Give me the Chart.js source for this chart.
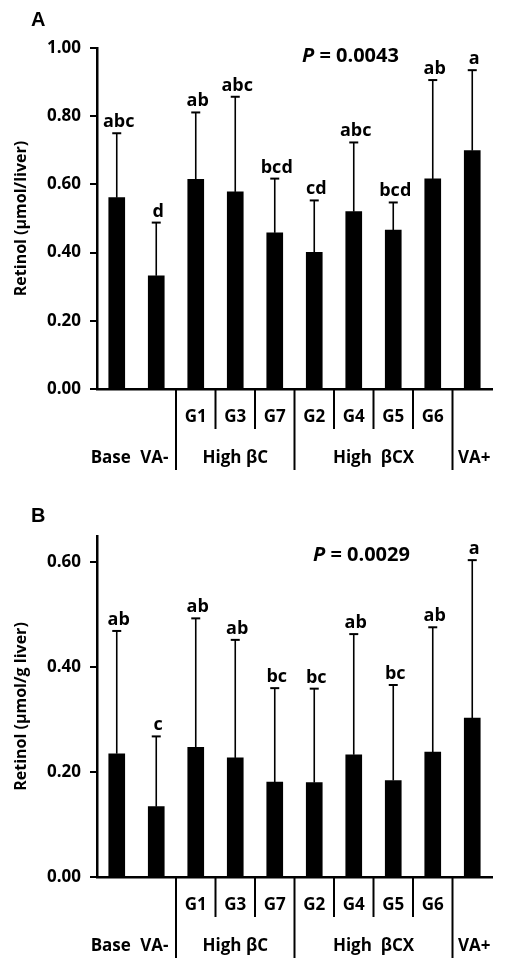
<!DOCTYPE html>
<html lang="en">
<head>
    <meta charset="UTF-8">
    <title>Retinol chart</title>
    <style>
        body { margin: 0; background: #fff; }
        canvas { display: block; }
    </style>
</head>
<body>

<!-- two panels, one above the other -->
<canvas id="chartA" width="505" height="484"></canvas>
<canvas id="chartB" width="505" height="484"></canvas>

<script src="https://cdn.jsdelivr.net/npm/chart.js"></script>

<script>
    // categories and labels under the axis
    const categories = ['Base', 'VA-', 'G1', 'G3', 'G7', 'G2', 'G4', 'G5', 'G6', 'VA+'];
    const subLabels = ['', '', 'G1', 'G3', 'G7', 'G2', 'G4', 'G5', 'G6', ''];
    const groupNames = ['Base', 'VA-', 'High βC', 'High  βCX', 'VA+'];
    const groupFrom = [0, 1, 2, 5, 9];
    const groupTo = [0, 1, 4, 8, 9];
    const longLinesAfter = [1, 4, 8];
    const shortLinesAfter = [2, 3, 5, 6, 7];

    // panel A: umol/liver
    const liverMean = [0.561, 0.332, 0.615, 0.578, 0.458, 0.401, 0.520, 0.466, 0.616, 0.699];
    const liverSD = [0.189, 0.156, 0.196, 0.279, 0.159, 0.152, 0.203, 0.081, 0.290, 0.236];
    const liverLetters = ['abc', 'd', 'ab', 'abc', 'bcd', 'cd', 'abc', 'bcd', 'ab', 'a'];
    const liverTicks = [0, 0.2, 0.4, 0.6, 0.8, 1.0];

    // panel B: umol/g liver
    const gMean = [0.235, 0.134, 0.247, 0.227, 0.181, 0.180, 0.233, 0.184, 0.238, 0.303];
    const gSD = [0.234, 0.134, 0.246, 0.225, 0.179, 0.179, 0.230, 0.182, 0.238, 0.301];
    const gLetters = ['ab', 'c', 'ab', 'ab', 'bc', 'bc', 'ab', 'bc', 'ab', 'a'];
    const gTicks = [0, 0.2, 0.4, 0.6];

    const FONT = "'Open Sans', Lato, sans-serif";

    // draws error bars, letters, group lines/labels, P value and panel letter
    const extrasPlugin = {
        id: 'extras',
        afterDatasetsDraw(chart, args, opts) {
            const ctx = chart.ctx;
            const x = chart.scales.x;
            const y = chart.scales.y;
            const mean = chart.data.datasets[0].data;
            const bottom = chart.chartArea.bottom;

            ctx.save();
            ctx.strokeStyle = '#000';
            ctx.fillStyle = '#000';

            // error bars (upper only) + letters
            mean.forEach((m, i) => {
                const px = x.getPixelForValue(i);
                const top = y.getPixelForValue(m + opts.sd[i]);
                const base = y.getPixelForValue(m);
                ctx.lineWidth = 1.6;
                ctx.beginPath();
                ctx.moveTo(px, base);
                ctx.lineTo(px, top);
                ctx.stroke();
                ctx.lineWidth = 2;
                ctx.beginPath();
                ctx.moveTo(px - 4.5, top);
                ctx.lineTo(px + 4.5, top);
                ctx.stroke();

                ctx.font = 'bold 18px ' + FONT;
                ctx.textAlign = 'center';
                ctx.textBaseline = 'alphabetic';
                ctx.fillText(opts.letters[i], px + 2, top - 6);
            });

            // separator lines under the axis
            const edge = i => (x.getPixelForValue(i) + x.getPixelForValue(i + 1)) / 2;
            ctx.lineWidth = 2;
            longLinesAfter.forEach(i => {
                ctx.beginPath();
                ctx.moveTo(edge(i), bottom);
                ctx.lineTo(edge(i), bottom + 81);
                ctx.stroke();
            });
            shortLinesAfter.forEach(i => {
                ctx.beginPath();
                ctx.moveTo(edge(i), bottom);
                ctx.lineTo(edge(i), bottom + 40);
                ctx.stroke();
            });

            // first row labels
            ctx.font = 'bold 17px ' + FONT;
            ctx.textAlign = 'center';
            ctx.textBaseline = 'middle';
            subLabels.forEach((lab, i) => {
                if (lab) ctx.fillText(lab, x.getPixelForValue(i), bottom + 28);
            });
            // second row labels (Base / VA- sit a little apart in the original)
            const nudge = [-6, -2, 0, 0, 2];
            groupNames.forEach((lab, g) => {
                const cx = (x.getPixelForValue(groupFrom[g]) + x.getPixelForValue(groupTo[g])) / 2;
                ctx.fillText(lab, cx + nudge[g], bottom + 69);
            });

            // P value
            ctx.textBaseline = 'alphabetic';
            ctx.textAlign = 'left';
            ctx.font = 'italic bold 20px ' + FONT;
            ctx.fillText('P', opts.pX, opts.pY);
            const pw = ctx.measureText('P').width;
            ctx.font = 'bold 20px ' + FONT;
            ctx.fillText(' = ' + opts.pValue, opts.pX + pw, opts.pY);

            // panel letter
            ctx.font = "bold 20px 'Liberation Sans', Arial, sans-serif";
            ctx.fillText(opts.panel, 31, opts.panelY);

            ctx.restore();
        }
    };

    function makeChart(canvasId, mean, sd, letters, ticks, yMax, yTitle, extra) {
        return new Chart(document.getElementById(canvasId), {
            type: 'bar',
            data: {
                labels: categories,
                datasets: [{
                    data: mean,
                    backgroundColor: '#000',
                    borderWidth: 0,
                    barThickness: 16
                }]
            },
            options: {
                responsive: false,
                animation: false,
                layout: { padding: { top: extra.top, right: 13, left: 0, bottom: 0 } },
                plugins: {
                    legend: { display: false },
                    tooltip: { enabled: false },
                    extras: Object.assign({ sd: sd, letters: letters }, extra)
                },
                scales: {
                    x: {
                        grid: { display: false },
                        ticks: { display: false },
                        border: { color: '#000', width: 2.5 },
                        afterFit: scale => { scale.height = extra.bottomSpace; }
                    },
                    y: {
                        min: 0,
                        max: yMax,
                        afterBuildTicks: scale => {
                            scale.ticks = ticks.map(v => ({ value: v }));
                        },
                        afterFit: scale => { scale.width = 97; },
                        grid: {
                            drawOnChartArea: false,
                            drawTicks: true,
                            tickLength: 7,
                            color: '#000',
                            lineWidth: 2
                        },
                        border: { color: '#000', width: 2.5 },
                        ticks: {
                            padding: 9,
                            color: '#000',
                            font: { family: FONT, size: 17, weight: 'bold' },
                            callback: v => Number(v).toFixed(2)
                        },
                        title: {
                            display: true,
                            text: yTitle,
                            color: '#000',
                            padding: { top: 12, bottom: 0 },
                            font: { family: FONT, size: 16, weight: 'bold' }
                        }
                    }
                }
            },
            plugins: [extrasPlugin]
        });
    }

    makeChart('chartA', liverMean, liverSD, liverLetters, liverTicks, 1.0,
        'Retinol (µmol/liver)',
        { top: 48, bottomSpace: 95, panel: 'A', panelY: 26, pValue: '0.0043', pX: 302, pY: 62 });

    makeChart('chartB', gMean, gSD, gLetters, gTicks, 0.65,
        'Retinol (µmol/g liver)',
        { top: 52, bottomSpace: 91, panel: 'B', panelY: 38, pValue: '0.0029', pX: 313, pY: 77 });
</script>

</body>
</html>
